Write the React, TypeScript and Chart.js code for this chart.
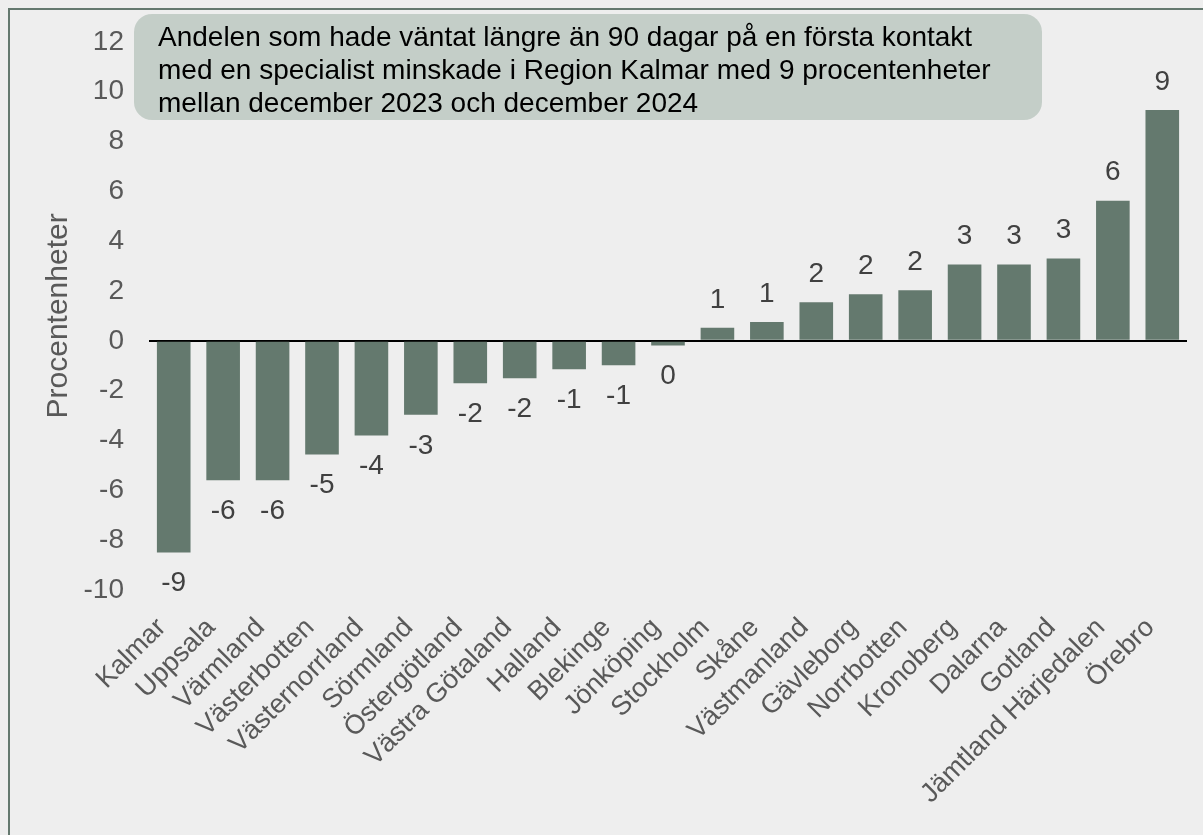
import React, { useEffect, useRef } from "react";
import { Chart, registerables } from "chart.js";

Chart.register(...registerables);

const categories = [
  "Kalmar", "Uppsala", "Värmland", "Västerbotten", "Västernorrland", "Sörmland",
  "Östergötland", "Västra Götaland", "Halland", "Blekinge", "Jönköping", "Stockholm",
  "Skåne", "Västmanland", "Gävleborg", "Norrbotten", "Kronoberg", "Dalarna",
  "Gotland", "Jämtland Härjedalen", "Örebro",
];

const values = [
  -8.5, -5.6, -5.6, -4.56, -3.8, -2.97,
  -1.7, -1.5, -1.14, -0.98, -0.19, 0.52,
  0.76, 1.55, 1.87, 2.03, 3.06, 3.06,
  3.3, 5.62, 9.26,
];

const yMin = -10;
const yMax = 12;
const yStep = 2;

const yTitle = "Procentenheter";

const annotationLines = [
  "Andelen som hade väntat längre än 90 dagar på en första kontakt",
  "med en specialist minskade i Region Kalmar med 9 procentenheter",
  "mellan december 2023 och december 2024",
];

const FONT = "'Liberation Sans', Arial, sans-serif";
const BAR = "#64796e";
const TICK = "#595959";
const LABEL = "#404040";

const roundAway = (v: number) => Math.sign(v) * Math.round(Math.abs(v));

const dataLabelPlugin = {
  id: "dataLabels",
  afterDatasetsDraw(chart: any) {
    const { ctx } = chart;
    const meta = chart.getDatasetMeta(0);
    const ds = chart.data.datasets[0].data as number[];
    ctx.save();
    ctx.font = `28px ${FONT}`;
    ctx.fillStyle = LABEL;
    ctx.textAlign = "center";
    ctx.textBaseline = "middle";
    meta.data.forEach((bar: any, i: number) => {
      const v = ds[i];
      const y = v >= 0 ? bar.y - 28 : bar.y + 31;
      ctx.fillText(String(roundAway(v)).replace("-0", "0"), bar.x, y);
    });
    ctx.restore();
  },
};

const annotationPlugin = {
  id: "annotationBox",
  afterDraw(chart: any) {
    const { ctx } = chart;
    ctx.save();
    ctx.fillStyle = "#c4cec8";
    ctx.beginPath();
    (ctx as any).roundRect(134, 14, 908, 106, 18);
    ctx.fill();
    ctx.font = `28px ${FONT}`;
    ctx.fillStyle = "#000000";
    ctx.textAlign = "left";
    ctx.textBaseline = "alphabetic";
    const baselines = [46, 79, 111.5];
    annotationLines.forEach((line, i) => {
      ctx.fillText(line, 158, baselines[i]);
    });
    ctx.restore();
  },
};

export default function App() {
  const ref = useRef<HTMLCanvasElement | null>(null);

  useEffect(() => {
    document.body.style.background = "#eeeeee";
    if (!ref.current) return;
    const chart = new Chart(ref.current, {
      type: "bar",
      data: {
        labels: categories,
        datasets: [
          {
            data: values,
            backgroundColor: BAR,
            borderWidth: 0,
            categoryPercentage: 1,
            barPercentage: 0.68,
          },
        ],
      },
      options: {
        animation: false,
        responsive: false,
        maintainAspectRatio: false,
        layout: { padding: { top: 33, right: 16, left: 0, bottom: 0 } },
        plugins: {
          legend: { display: false },
          tooltip: { enabled: false },
        },
        scales: {
          x: {
            grid: { display: false },
            border: { display: false },
            ticks: {
              color: TICK,
              font: { family: FONT, size: 27 },
              minRotation: 45,
              maxRotation: 45,
              autoSkip: false,
              padding: 14,
              labelOffset: -12,
            },
            afterFit(scale: any) {
              scale.height = 245;
            },
          },
          y: {
            min: yMin,
            max: yMax,
            border: { display: false },
            grid: {
              drawTicks: false,
              color: (c: any) => (c.tick && c.tick.value === 0 ? "#000000" : "rgba(0,0,0,0)"),
              lineWidth: 2,
            },
            ticks: {
              stepSize: yStep,
              color: TICK,
              font: { family: FONT, size: 28 },
              padding: 25,
            },
            title: {
              display: true,
              text: yTitle,
              color: TICK,
              font: { family: FONT, size: 30 },
              padding: { top: 41, bottom: 0 },
            },
            afterFit(scale: any) {
              scale.width = 149;
            },
          },
        },
      },
      plugins: [dataLabelPlugin, annotationPlugin],
    });
    return () => chart.destroy();
  }, []);

  return (
    <div style={{ position: "fixed", left: 0, top: 0, width: 1203, height: 835, background: "#eeeeee", overflow: "hidden" }}>
      <div
        style={{
          position: "absolute",
          left: 8,
          top: 8,
          width: 1300,
          height: 1000,
          borderLeft: "2px solid #64786e",
          borderTop: "2px solid #64786e",
          boxSizing: "border-box",
        }}
      />
      <canvas ref={ref} width={1203} height={835} style={{ position: "absolute", left: 0, top: 0, width: 1203, height: 835 }} />
    </div>
  );
}
